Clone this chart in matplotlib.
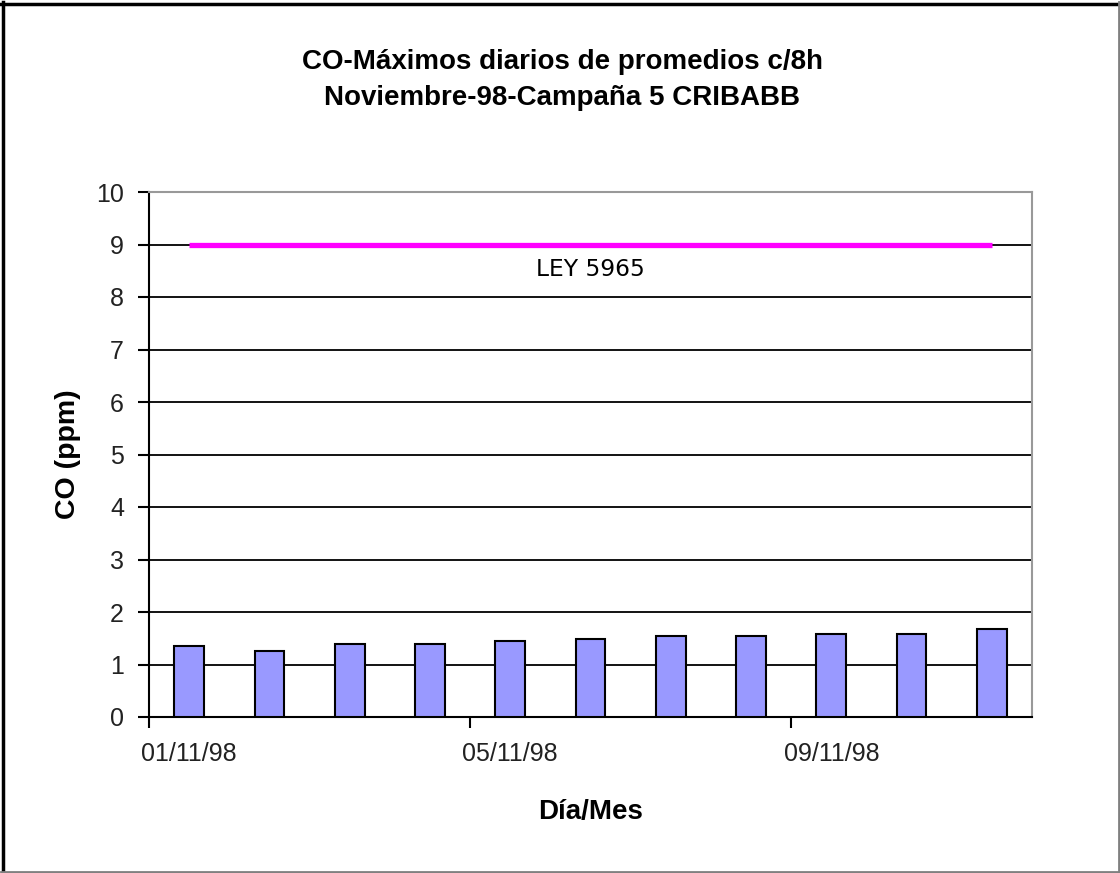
import matplotlib
matplotlib.use("Agg")
import matplotlib.pyplot as plt
from matplotlib.lines import Line2D

days = ["01/11/98", "02/11/98", "03/11/98", "04/11/98", "05/11/98", "06/11/98",
        "07/11/98", "08/11/98", "09/11/98", "10/11/98", "11/11/98"]
co_max = [1.36, 1.26, 1.40, 1.40, 1.44, 1.48, 1.54, 1.54, 1.59, 1.59, 1.67]
ley_limit = [9] * len(days)
ley_label = "LEY 5965"
title_lines = ["CO-Máximos diarios de promedios c/8h", "Noviembre-98-Campaña 5 CRIBABB"]

W, H = 1120, 873
fig = plt.figure(figsize=(W / 100, H / 100), dpi=100)
fig.patch.set_facecolor("white")

L, R, B, T = 149, 1032, 717, 192
ax = fig.add_axes([L / W, (H - B) / H, (R - L) / W, (B - T) / H])

x = list(range(len(days)))
ax.bar(x, co_max, width=0.37, color="#9999FF", edgecolor="black", linewidth=1.5, zorder=3)
ax.plot(x, ley_limit, color="#FF00FF", linewidth=3.8, solid_capstyle="butt", zorder=4)
ax.annotate(ley_label, (x[5], ley_limit[5]), xytext=(0, -25), textcoords="offset pixels",
            ha="center", va="center", fontsize=16.8, family="DejaVu Sans", zorder=5)

ax.set_xlim(-0.5, len(days) - 0.5)
ax.set_ylim(0, 10)
ax.set_yticks(range(0, 11))
ax.yaxis.grid(True, color="black", linewidth=1.3, zorder=0)
ax.set_axisbelow(True)

# category boundaries as major ticks, labels on every 4th category
ax.set_xticks([i - 0.5 for i in range(0, len(days), 4)])
ax.set_xticklabels([])
ax.set_xticks(list(range(0, len(days), 4)), minor=True)
ax.set_xticklabels([days[i] for i in range(0, len(days), 4)], minor=True)
ax.tick_params(axis="x", which="minor", length=0, pad=18, labelsize=18, labelcolor="#222222")
ax.tick_params(axis="x", which="major", length=8, width=1.5, direction="out", color="black")
ax.tick_params(axis="y", length=8, width=1.5, direction="out", pad=10, labelsize=18,
               labelcolor="#222222")
for lab in ax.get_xticklabels(minor=True) + ax.get_yticklabels():
    lab.set_family("Liberation Sans")

ax.spines["left"].set_color("black")
ax.spines["left"].set_linewidth(1.5)
ax.spines["bottom"].set_color("black")
ax.spines["bottom"].set_linewidth(1.5)
ax.spines["top"].set_color("#999999")
ax.spines["top"].set_linewidth(1.5)
ax.spines["right"].set_color("#999999")
ax.spines["right"].set_linewidth(1.5)

ax.set_ylabel("CO (ppm)", fontsize=20.5, fontweight="bold", family="Liberation Sans", labelpad=11)
ax.set_xlabel("Día/Mes", fontsize=20, fontweight="bold", family="Liberation Sans", labelpad=24)

fig.text(562 / W, 1 - 62 / H, title_lines[0], ha="center", va="center",
         fontsize=20, fontweight="bold", family="Liberation Sans")
fig.text(562 / W, 1 - 98 / H, title_lines[1], ha="center", va="center",
         fontsize=20, fontweight="bold", family="Liberation Sans")

# outer frame
def fl(x0, y0, x1, y1, c, lw):
    fig.add_artist(Line2D([x0 / W, x1 / W], [1 - y0 / H, 1 - y1 / H], color=c, linewidth=lw,
                          transform=fig.transFigure))

fl(2.5, 2, 2.5, 872, "black", 2.5)
fl(1, 3.5, 1119, 3.5, "black", 2.5)
fl(1119, 2, 1119, 872, "#808080", 2)
fl(1, 871.5, 1119, 871.5, "#808080", 2)

fig.savefig("out.png", dpi=100)
